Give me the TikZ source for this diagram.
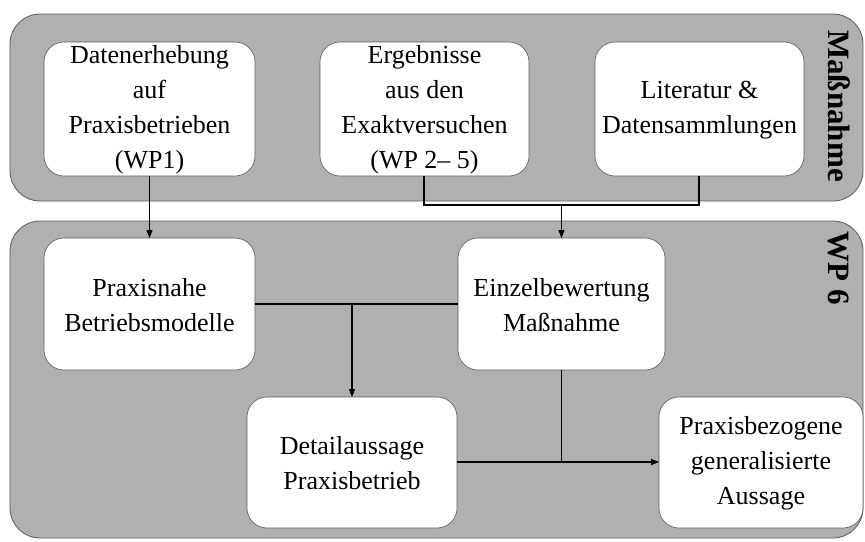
\documentclass[tikz,border=0pt]{standalone}
\usepackage{fontspec}
\setmainfont{Liberation Serif}
\usetikzlibrary{arrows.meta}
\definecolor{panelgray}{RGB}{176,176,176}
\definecolor{rimgray}{RGB}{90,90,90}
\begin{document}
\begin{tikzpicture}[x=1pt,y=-1pt,
  panel/.style={fill=panelgray,draw=rimgray,line width=0.8pt,rounded corners=30pt},
  card/.style={fill=white,draw=rimgray,line width=0.6pt,rounded corners=20pt},
  lbl/.style={align=center,font=\fontsize{26}{35}\selectfont},
  side/.style={font=\bfseries\fontsize{31}{34}\selectfont,rotate=-90},
  conn/.style={draw=black,line width=1.1pt},
  arr/.style={conn,-{Triangle[length=8pt,width=6pt]}}]
\useasboundingbox (0,0) rectangle (865,541);
% panels
\draw[panel] (10,14) rectangle (863,201);
\draw[panel] (10,221) rectangle (863,538);
\node[side] (lm) at (839,106) {Maßnahme};
\node[side] (lw) at (839,268) {WP 6};
% top cards
\draw[card] (44,42) rectangle (255,176);
\node[lbl] (d) at (149.5,110) {Datenerhebung\\auf\\Praxisbetrieben\\(WP1)};
\coordinate (db) at (149.5,176);
\draw[card] (320,42) rectangle (529,176);
\node[lbl] (e) at (424.5,110) {Ergebnisse\\aus den\\Exaktversuchen\\(WP 2-- 5)};
\coordinate (eb) at (424,176);
\draw[card] (595,42) rectangle (804,176);
\node[lbl] (l) at (699.5,110) {Literatur \&\\Datensammlungen};
\coordinate (lb) at (699,176);
% bottom cards
\draw[card] (44,238) rectangle (255,370);
\node[lbl] (p) at (149.5,305) {Praxisnahe\\Betriebsmodelle};
\coordinate (pt) at (149.5,238);
\coordinate (pr) at (255,304);
\draw[card] (458,238) rectangle (665,370);
\node[lbl] (z) at (561.5,305) {Einzelbewertung\\Maßnahme};
\coordinate (zt) at (561.5,238);
\coordinate (zl) at (458,304);
\coordinate (zb) at (561.5,370);
\draw[card] (247,397) rectangle (457,528);
\node[lbl] (t) at (352,463) {Detailaussage\\Praxisbetrieb};
\coordinate (tt) at (352,397);
\coordinate (tr) at (457,462);
\draw[card] (659,397) rectangle (863,528);
\node[lbl] (g) at (761,463) {Praxisbezogene\\generalisierte\\Aussage};
\coordinate (gl) at (659,462);
% connectors
\draw[arr] (db) -- (pt);
\coordinate (jn) at (561.5,205);
\draw[conn] (eb) |- (jn) -| (lb);
\draw[arr] (jn) -- (zt);
\draw[conn] (pr) -- (zl);
\coordinate (jp) at (352,304);
\draw[arr] (jp) -- (tt);
\draw[arr] (tr) -- (gl);
\coordinate (jz) at (561.5,462);
\draw[conn] (zb) -- (jz);
\end{tikzpicture}
\end{document}
